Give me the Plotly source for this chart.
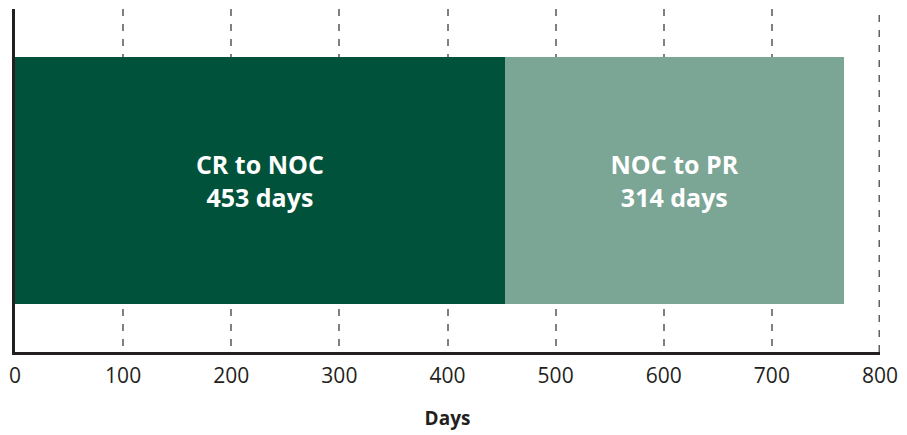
import plotly.graph_objects as go

# Stage durations, in days
stages = ["CR to NOC", "NOC to PR"]
durations = [453, 314]
colors = ["#00533A", "#7BA595"]
tick_values = [0, 100, 200, 300, 400, 500, 600, 700, 800]

fig = go.Figure()
for name, days, color in zip(stages, durations, colors):
    fig.add_trace(go.Bar(
        y=["timeline"],
        x=[days],
        orientation="h",
        name=name,
        marker=dict(color=color, line=dict(width=0)),
        text=[f"<b>{name}</b><br><b>{days} days</b>"],
        textposition="inside",
        insidetextanchor="middle",
        textangle=0,
        constraintext="none",
        textfont=dict(family="Open Sans", size=25, color="white"),
        hoverinfo="skip",
    ))

fig.update_layout(
    barmode="stack",
    bargap=0.28,
    width=907,
    height=435,
    margin=dict(l=14, r=26, t=9, b=83),
    plot_bgcolor="white",
    paper_bgcolor="white",
    showlegend=False,
    font=dict(family="Open Sans", color="#231F20"),
)

fig.update_xaxes(
    range=[0, tick_values[-1]],
    tickvals=tick_values,
    ticktext=[str(v) for v in tick_values],
    tickfont=dict(size=21, color="#231F20"),
    ticklabelstandoff=3,
    showgrid=True,
    gridcolor="#808080",
    griddash="7px,8px",
    gridwidth=1.5,
    showline=True,
    linecolor="#231F20",
    linewidth=2.5,
    ticks="",
    zeroline=False,
    title=dict(text="<b>Days</b>", font=dict(size=19, color="#231F20"), standoff=24),
)

# gridline at the right edge of the axis (plotly skips it at the range end);
# the shape is clipped to the plot area, so only its left half shows
fig.add_shape(
    type="line", xref="x", yref="paper",
    x0=tick_values[-1], x1=tick_values[-1], y0=0, y1=1,
    line=dict(color="#606060", width=3, dash="7px,8px"),
    layer="below",
)

fig.update_yaxes(
    showticklabels=False,
    showgrid=False,
    showline=True,
    linecolor="#231F20",
    linewidth=2.5,
    ticks="",
    zeroline=False,
)

fig.write_html("out.html")
